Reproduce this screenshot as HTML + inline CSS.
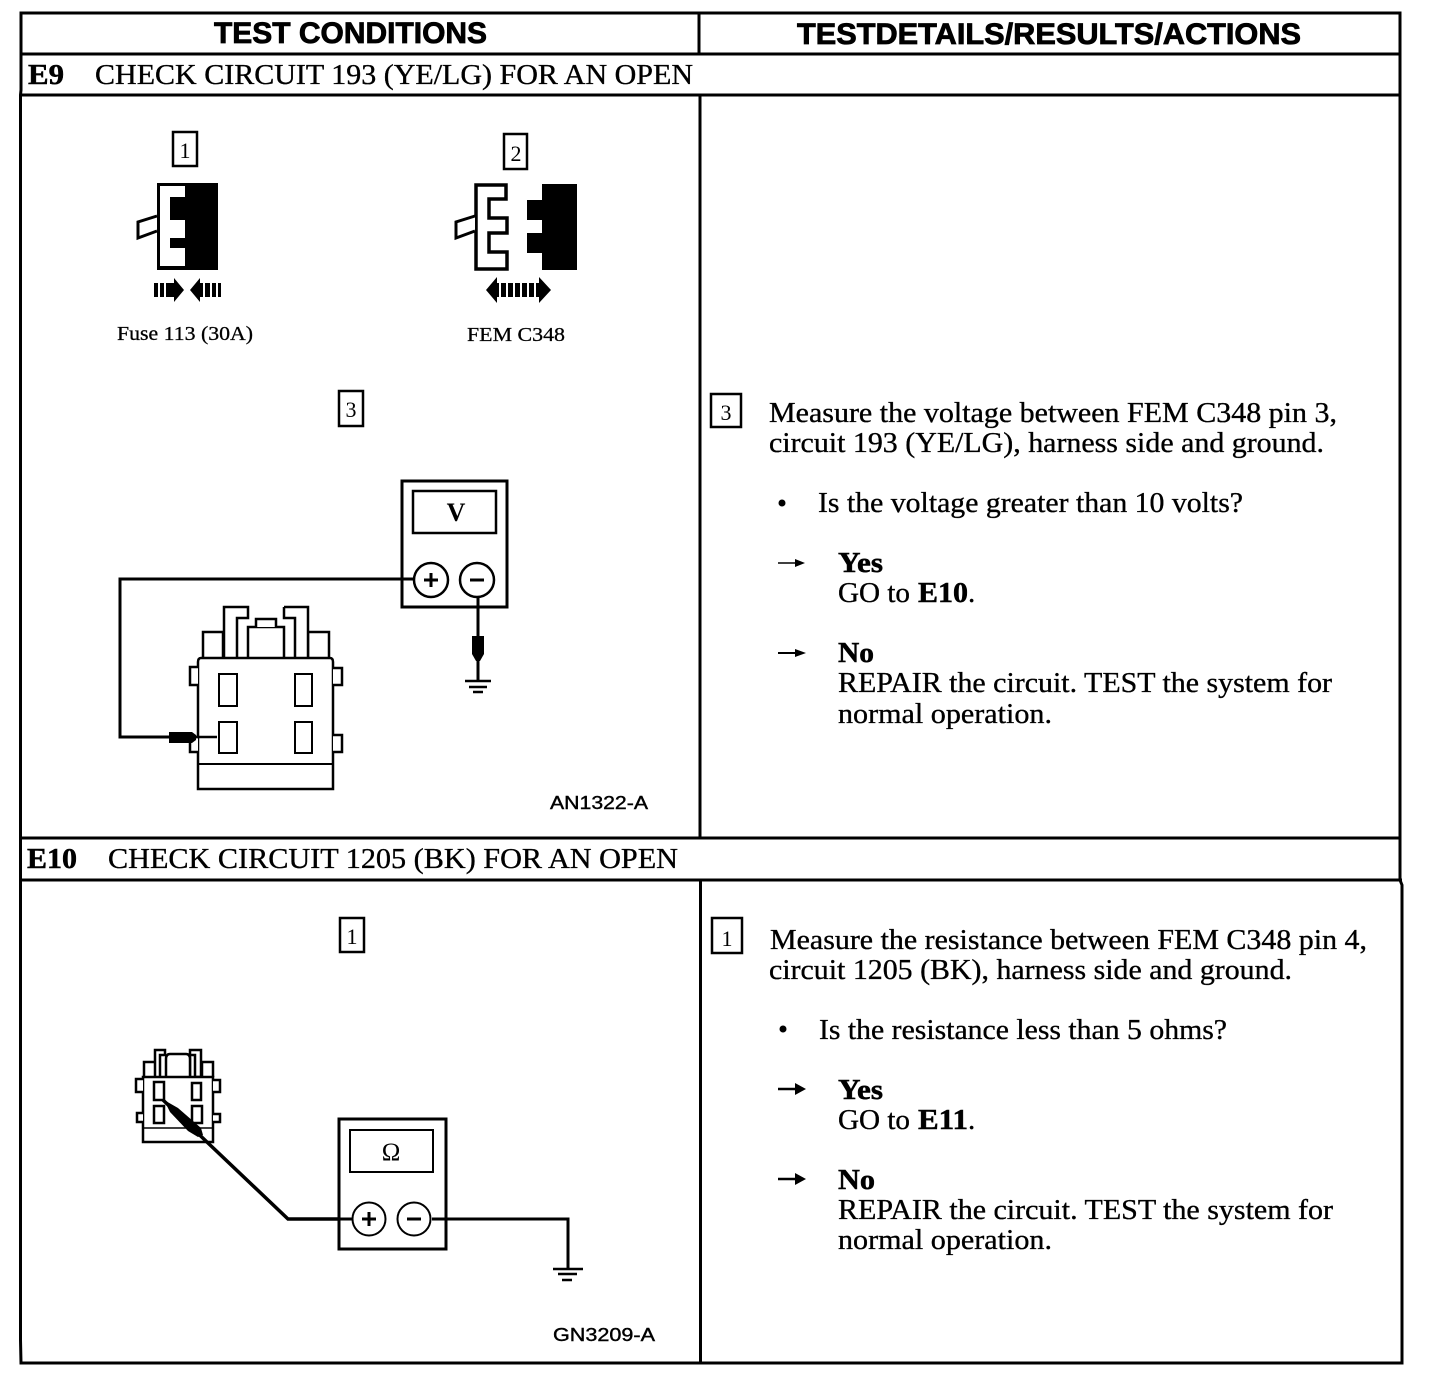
<!DOCTYPE html>
<html><head><meta charset="utf-8"><style>
html,body{margin:0;padding:0;background:#fff}
svg{display:block}
text{fill:#000;white-space:pre}
.h{font:bold 30px "Liberation Sans",sans-serif;stroke:#000;stroke-width:.8}
.t{font:29px "Liberation Serif",serif;stroke:#000;stroke-width:.35}
.b{font:bold 29px "Liberation Serif",serif;stroke:#000;stroke-width:.5}
.s{font:20px "Liberation Serif",serif;stroke:#000;stroke-width:.3}
.c{font:18px "Liberation Sans",sans-serif;stroke:#000;stroke-width:.4}
.n{font:22px "Liberation Serif",serif}
.l{fill:none;stroke:#000;stroke-width:3}
.m{fill:#fff;stroke:#000;stroke-width:2.5}
.f{fill:#000}
</style></head><body>
<svg width="1456" height="1380" viewBox="0 0 1456 1380" xmlns="http://www.w3.org/2000/svg">
<rect width="1456" height="1380" fill="#fff"/>
<!-- table -->
<g class="l">
<path d="M21 13H1400V880L1402 885V1363H21L20.5 1340V95L21 90Z"/>
<path d="M21 54H1400M21 95H1400M21 838H1400M21 880H1402"/>
<path d="M699 13V54M700 95V838M700.5 880V1363"/>
</g>
<text class="h" x="214" y="43" textLength="273" lengthAdjust="spacingAndGlyphs">TEST CONDITIONS</text>
<text class="h" x="797" y="44" textLength="504" lengthAdjust="spacingAndGlyphs">TESTDETAILS/RESULTS/ACTIONS</text>
<text class="b" x="28" y="84" textLength="36" lengthAdjust="spacingAndGlyphs">E9</text>
<text class="t" x="95" y="84" textLength="598" lengthAdjust="spacingAndGlyphs">CHECK CIRCUIT 193 (YE/LG) FOR AN OPEN</text>
<text class="b" x="27" y="868" textLength="50" lengthAdjust="spacingAndGlyphs">E10</text>
<text class="t" x="108" y="868" textLength="570" lengthAdjust="spacingAndGlyphs">CHECK CIRCUIT 1205 (BK) FOR AN OPEN</text>

<!-- number boxes -->
<g fill="none" stroke="#000" stroke-width="2.5">
<rect x="173" y="132" width="24" height="34"/>
<rect x="504" y="134" width="23" height="35"/>
<rect x="339" y="391" width="24" height="35"/>
<rect x="711" y="394" width="30" height="33"/>
<rect x="340" y="918" width="24" height="34"/>
<rect x="712" y="918" width="30" height="35"/>
</g>
<g class="n" text-anchor="middle">
<text x="185" y="158">1</text><text x="516" y="161">2</text>
<text x="351" y="417">3</text><text x="726" y="420">3</text>
<text x="352" y="944">1</text><text x="727" y="946">1</text>
</g>

<!-- connector 1 -->
<path class="f" d="M157 183H218V270H157Z"/>
<path fill="#fff" d="M160 186H185V197H170V220H185V238H170V248H185V266H160Z"/>
<path fill="#fff" stroke="#000" stroke-width="3" d="M157 216L138 222V238L157 231"/>
<path class="f" d="M154 283h4v14h-4zM160 283h4v14h-4zM166 283h5v14h-5zM171 283h3v-5l10 12-10 12v-5h-3zM190 290l10-12v5h3v14h-3v5zM205 283h5v14h-5zM212 283h4v14h-4zM218 283h3v14h-3z"/>
<text class="s" x="117" y="340" textLength="136" lengthAdjust="spacingAndGlyphs">Fuse 113 (30A)</text>

<!-- connector 2 -->
<path fill="#fff" stroke="#000" stroke-width="3.5" d="M476 185H506V199H489V218H507V233H489V252H507V269H476Z"/>
<path fill="#fff" stroke="#000" stroke-width="3" d="M475 216L456 222V238L475 231"/>
<path class="f" d="M542 184H577V270H542V253H527V233H542V220H527V200H542Z"/>
<path class="f" d="M486 290l11-13v6h2v14h-2v6zM501 283h5v14h-5zM508 283h5v14h-5zM515 283h5v14h-5zM522 283h5v14h-5zM529 283h5v14h-5zM536 283h3v-6l12 13-12 13v-6h-3z"/>
<text class="s" x="467" y="341" textLength="98" lengthAdjust="spacingAndGlyphs">FEM C348</text>

<!-- E9 meter -->
<rect x="402" y="481" width="105" height="126" fill="#fff" stroke="#000" stroke-width="3"/>
<rect x="413" y="491" width="83" height="42" fill="#fff" stroke="#000" stroke-width="2.5"/>
<text x="456" y="521" text-anchor="middle" style="font:bold 26px 'Liberation Serif',serif">V</text>
<path class="l" d="M415 579H120V737H170"/>
<circle class="m" cx="431" cy="580" r="17"/>
<circle class="m" cx="477" cy="580" r="17"/>
<path d="M424 580h14M431 573v14M470 580h14" stroke="#000" stroke-width="3"/>
<path class="l" d="M478 597V636M478 660V680"/>
<path class="f" d="M472 636H484V654L480 661H476L472 654Z"/>
<path d="M465 681H491M469 687H487M473 692H483" stroke="#000" stroke-width="2.5"/>

<!-- E9 connector -->
<g fill="#fff" stroke="#000" stroke-width="2.5">
<path d="M203 659V632H223V659"/>
<path d="M308 659V632H329V659"/>
<path d="M224 659V607H248V618H237V659H248"/>
<path d="M284 607H308V659H284M295 659V618H284V607"/>
<path d="M248 658V627H284V658"/>
<path d="M256 627V619H276V627"/>
<path d="M201 658H330Q333 658 333 662V789H198V662Q198 658 201 658Z"/>
<path d="M198 667H190V685H198"/>
<path d="M333 668H342V685H333"/>
<path d="M333 735H342V752H333"/>
<path d="M198 737H190V752H198"/>
</g>
<path d="M198 764H333" stroke="#000" stroke-width="2"/>
<g fill="#fff" stroke="#000" stroke-width="2">
<rect x="219" y="674" width="18" height="32"/>
<rect x="295" y="674" width="17" height="32"/>
<rect x="219" y="722" width="18" height="31"/>
<rect x="295" y="722" width="17" height="31"/>
</g>
<path class="f" d="M169 732H192L196 735V740L192 743H169Z"/>
<path d="M192 737H217" stroke="#000" stroke-width="2.5"/>
<text class="c" x="550" y="809" textLength="98" lengthAdjust="spacingAndGlyphs">AN1322-A</text>

<!-- E10 connector -->
<g fill="#fff" stroke="#000" stroke-width="2.5">
<path d="M144 1077V1062H156V1077M202 1077V1062H213V1077"/>
<path d="M155 1077V1050H165V1055H160V1077"/>
<path d="M190 1077V1050H201V1077H195V1055H190Z"/>
<path d="M166 1077V1059Q166 1054 170 1054H186Q190 1054 190 1059V1077"/>
<path d="M143 1077H213V1142H143Z"/>
<path d="M143 1079H136V1092H143M213 1080H220V1092H213M143 1113H137V1122H143M213 1114H220V1122H213"/>
<rect x="154" y="1082" width="10" height="18"/>
<rect x="192" y="1083" width="9" height="17"/>
<rect x="154" y="1106" width="10" height="17"/>
<rect x="192" y="1106" width="10" height="17"/>
</g>
<path d="M143 1128H213" stroke="#000" stroke-width="1.5"/>
<path d="M163 1100L208 1143L288 1219H340" fill="none" stroke="#000" stroke-width="3.5"/>
<path class="f" d="M164 1100L178 1108L201 1128L203 1135L198 1137L188 1131L170 1112Z"/>

<!-- E10 meter -->
<rect x="339" y="1119" width="107" height="130" fill="#fff" stroke="#000" stroke-width="3"/>
<rect x="350" y="1130" width="83" height="42" fill="#fff" stroke="#000" stroke-width="2"/>
<text x="391" y="1160" text-anchor="middle" style="font:25px 'Liberation Serif','DejaVu Sans',serif">Ω</text>
<path class="l" d="M288 1219H352M432 1219H568V1268"/>
<circle cx="369" cy="1219" r="16.5" fill="#fff" stroke="#000" stroke-width="2"/>
<circle cx="414" cy="1219" r="16.5" fill="#fff" stroke="#000" stroke-width="2"/>
<path d="M362 1219h14M369 1212v14M407 1219h14" stroke="#000" stroke-width="3"/>
<path d="M553 1269H583M558 1274H577M562 1280H572" stroke="#000" stroke-width="2.5"/>
<text class="c" x="553" y="1341" textLength="102" lengthAdjust="spacingAndGlyphs">GN3209-A</text>

<!-- E9 right text -->
<text class="t" x="769" y="422" textLength="568" lengthAdjust="spacingAndGlyphs">Measure the voltage between FEM C348 pin 3,</text>
<text class="t" x="769" y="452" textLength="555" lengthAdjust="spacingAndGlyphs">circuit 193 (YE/LG), harness side and ground.</text>
<circle class="f" cx="782" cy="503" r="3.5"/>
<text class="t" x="818" y="512" textLength="425" lengthAdjust="spacingAndGlyphs">Is the voltage greater than 10 volts?</text>
<path d="M778 563H800" stroke="#000" stroke-width="1.5"/><path class="f" d="M805 563L795 559V567Z"/>
<text class="b" x="838" y="572" textLength="45" lengthAdjust="spacingAndGlyphs">Yes</text>
<text class="t" x="838" y="602" textLength="72" lengthAdjust="spacingAndGlyphs">GO to</text><text class="b" x="918" y="602" textLength="50" lengthAdjust="spacingAndGlyphs">E10</text><text class="t" x="968" y="602">.</text>
<path d="M778 653H800" stroke="#000" stroke-width="2"/><path class="f" d="M806 653L795 649V657Z"/>
<text class="b" x="838" y="662" textLength="36" lengthAdjust="spacingAndGlyphs">No</text>
<text class="t" x="838" y="692" textLength="494" lengthAdjust="spacingAndGlyphs">REPAIR the circuit. TEST the system for</text>
<text class="t" x="838" y="723" textLength="214" lengthAdjust="spacingAndGlyphs">normal operation.</text>

<!-- E10 right text -->
<text class="t" x="770" y="949" textLength="597" lengthAdjust="spacingAndGlyphs">Measure the resistance between FEM C348 pin 4,</text>
<text class="t" x="769" y="979" textLength="523" lengthAdjust="spacingAndGlyphs">circuit 1205 (BK), harness side and ground.</text>
<circle class="f" cx="783" cy="1029" r="3.5"/>
<text class="t" x="819" y="1039" textLength="408" lengthAdjust="spacingAndGlyphs">Is the resistance less than 5 ohms?</text>
<path d="M778 1089H800" stroke="#000" stroke-width="2.5"/><path class="f" d="M806 1089L795 1083V1095Z"/>
<text class="b" x="838" y="1099" textLength="45" lengthAdjust="spacingAndGlyphs">Yes</text>
<text class="t" x="838" y="1129" textLength="72" lengthAdjust="spacingAndGlyphs">GO to</text><text class="b" x="918" y="1129" textLength="50" lengthAdjust="spacingAndGlyphs">E11</text><text class="t" x="968" y="1129">.</text>
<path d="M778 1179H800" stroke="#000" stroke-width="2.5"/><path class="f" d="M806 1179L795 1173V1185Z"/>
<text class="b" x="838" y="1189" textLength="37" lengthAdjust="spacingAndGlyphs">No</text>
<text class="t" x="838" y="1219" textLength="495" lengthAdjust="spacingAndGlyphs">REPAIR the circuit. TEST the system for</text>
<text class="t" x="838" y="1249" textLength="214" lengthAdjust="spacingAndGlyphs">normal operation.</text>
</svg>
</body></html>
